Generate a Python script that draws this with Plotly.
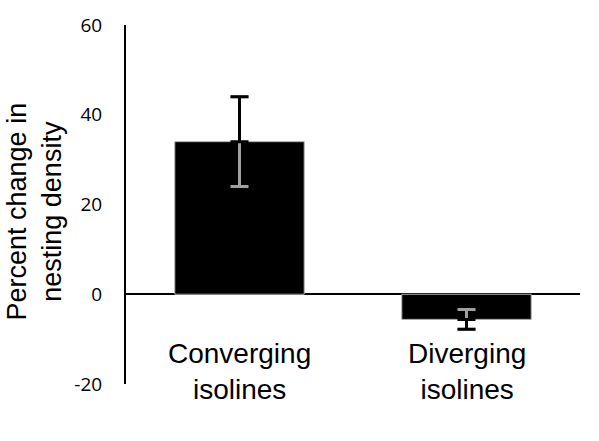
import plotly.graph_objects as go

categories = ["Converging<br>isolines", "Diverging<br>isolines"]
values = [34.0, -5.6]
errors = [10.0, 2.2]
y_ticks = [-20, 0, 20, 40, 60]
y_title = "Percent change in<br>nesting density"

# outer (black) part of each error bar: away from zero
outer_plus = [e if v >= 0 else 0 for v, e in zip(values, errors)]
outer_minus = [e if v < 0 else 0 for v, e in zip(values, errors)]

fig = go.Figure()
fig.add_trace(go.Bar(
    x=categories, y=values, width=0.57,
    marker=dict(color="black", line=dict(color="#b0b0b0", width=1)),
    showlegend=False, hoverinfo="skip",
))
# full error bars in gray (visible inside the bars)
fig.add_trace(go.Scatter(
    x=categories, y=values, mode="markers", marker=dict(size=0.1, color="rgba(0,0,0,0)"),
    error_y=dict(type="data", array=errors, symmetric=True, color="#a0a0a0", thickness=3, width=9),
    showlegend=False, hoverinfo="skip",
))
# outer portions in black
fig.add_trace(go.Scatter(
    x=categories, y=values, mode="markers", marker=dict(size=0.1, color="rgba(0,0,0,0)"),
    error_y=dict(type="data", symmetric=False, array=outer_plus, arrayminus=outer_minus,
                 color="black", thickness=3, width=9),
    showlegend=False, hoverinfo="skip",
))

for c in categories:
    fig.add_annotation(
        x=c, y=-17.2, xref="x", yref="y", text=c, showarrow=False,
        font=dict(family="Liberation Sans, Arial, sans-serif", size=28, color="black"),
        xanchor="center", yanchor="middle",
    )

fig.add_annotation(
    x=0, y=0.5, xref="paper", yref="paper", text=y_title, showarrow=False,
    textangle=-90, xanchor="center", yanchor="middle", xshift=-92, yshift=-7,
    font=dict(family="Liberation Sans, Arial, sans-serif", size=27, color="black"),
)

fig.update_layout(
    width=599, height=441,
    margin=dict(l=126, r=19, t=19, b=57),
    paper_bgcolor="white", plot_bgcolor="white",
    xaxis=dict(showticklabels=False, showline=False, showgrid=False, zeroline=False,
               ticks="", range=[-0.5, 1.5]),
    yaxis=dict(range=[-20, 60], tickvals=y_ticks, ticktext=[str(t) for t in y_ticks],
               showline=True, linecolor="black", linewidth=2,
               showgrid=False, zeroline=True, zerolinecolor="black", zerolinewidth=2,
               ticks="", ticklabelstandoff=18,
               tickfont=dict(family="Open Sans, sans-serif", size=19, color="black")),
)

fig.write_html("out.html")
